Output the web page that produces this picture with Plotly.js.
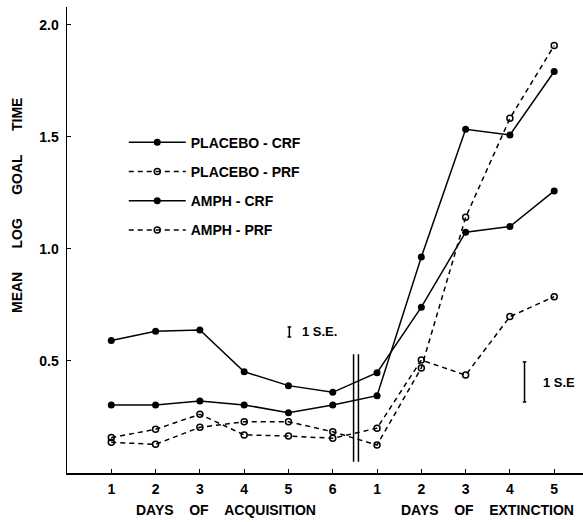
<!DOCTYPE html>
<html>
<head>
<meta charset="utf-8">
<script src="https://cdn.plot.ly/plotly-3.0.1.min.js"></script>
<style>
  html, body { margin: 0; padding: 0; background: #fff; }
  #chart { width: 583px; height: 522px; }
</style>
</head>
<body>
<div id="chart"></div>
<script>
// Positions 1..11: acquisition days 1-6, then extinction days 1-5
var dayPositions = [1, 2, 3, 4, 5, 6, 7, 8, 9, 10, 11];
var dayLabels = ['1', '2', '3', '4', '5', '6', '1', '2', '3', '4', '5'];

var seriesNames = ['PLACEBO - CRF', 'PLACEBO - PRF', 'AMPH - CRF', 'AMPH - PRF'];

// Mean log goal time
var placeboCRF = [0.304, 0.304, 0.321, 0.304, 0.269, 0.304, 0.345, 0.964, 1.534, 1.509, 1.792];
var placeboPRF = [0.158, 0.195, 0.262, 0.170, 0.165, 0.155, 0.200, 0.504, 0.437, 0.698, 0.787];
var amphCRF    = [0.591, 0.633, 0.638, 0.452, 0.390, 0.360, 0.448, 0.740, 1.075, 1.100, 1.259];
var amphPRF    = [0.137, 0.128, 0.204, 0.229, 0.229, 0.184, 0.125, 0.469, 1.141, 1.583, 1.908];

var yTickVals = [0.5, 1.0, 1.5, 2.0];
var yTickText = ['0.5', '1.0', '1.5', '2.0'];

var FONT = 'Liberation Sans, Arial, Helvetica, sans-serif';

function mk(name, y, filled) {
  return {
    type: 'scatter', mode: 'lines+markers', name: name, legendgroup: name,
    x: dayPositions, y: y,
    line: { color: '#000', width: 1.5, dash: filled ? 'solid' : '5px,4px' },
    marker: filled ? { symbol: 'circle', size: 7, color: '#000' }
                   : { symbol: 'circle-open', size: 6, color: '#000', line: { width: 1.5, color: '#000' } }
  };
}

var data = [
  mk(seriesNames[0], placeboCRF, true),
  mk(seriesNames[1], placeboPRF, false),
  mk(seriesNames[2], amphCRF, true),
  mk(seriesNames[3], amphPRF, false)
];

var blk = { color: '#000', width: 1.5 };
var shapes = [
  // double vertical separator between acquisition and extinction
  { type: 'line', xref: 'x', yref: 'y', x0: 6.47, x1: 6.47, y0: 0.05, y1: 0.53, line: blk },
  { type: 'line', xref: 'x', yref: 'y', x0: 6.58, x1: 6.58, y0: 0.05, y1: 0.53, line: blk },
  // 1 S.E. bar (acquisition)
  { type: 'line', xref: 'x', yref: 'y', x0: 5.02, x1: 5.02, y0: 0.607, y1: 0.652, line: blk },
  { type: 'line', xref: 'x', yref: 'y', x0: 4.98, x1: 5.06, y0: 0.652, y1: 0.652, line: blk },
  { type: 'line', xref: 'x', yref: 'y', x0: 4.98, x1: 5.06, y0: 0.607, y1: 0.607, line: blk },
  // 1 S.E. bar (extinction)
  { type: 'line', xref: 'x', yref: 'y', x0: 10.33, x1: 10.33, y0: 0.317, y1: 0.496, line: blk },
  { type: 'line', xref: 'x', yref: 'y', x0: 10.29, x1: 10.37, y0: 0.496, y1: 0.496, line: blk },
  { type: 'line', xref: 'x', yref: 'y', x0: 10.29, x1: 10.37, y0: 0.317, y1: 0.317, line: blk }
];

var sp = '\u00a0\u00a0\u00a0\u00a0';
var sp2 = '\u00a0\u00a0\u00a0\u00a0\u00a0\u00a0';
var annotations = [
  { xref: 'x', yref: 'y', x: 5.25, y: 0.63, xanchor: 'left', yanchor: 'middle', showarrow: false,
    text: '1 S.E.', font: { family: FONT, size: 13, color: '#000', weight: 'bold' } },
  { xref: 'x', yref: 'y', x: 10.71, y: 0.406, xanchor: 'left', yanchor: 'middle', showarrow: false,
    text: '1 S.E', font: { family: FONT, size: 13, color: '#000', weight: 'bold' } },
  { xref: 'paper', yref: 'paper', x: 0.308, y: -0.079, xanchor: 'center', yanchor: 'middle', showarrow: false,
    text: 'DAYS' + sp + 'OF' + sp + 'ACQUISITION', font: { family: FONT, size: 14, color: '#000', weight: 'bold' } },
  { xref: 'paper', yref: 'paper', x: 0.814, y: -0.079, xanchor: 'center', yanchor: 'middle', showarrow: false,
    text: 'DAYS' + sp + 'OF' + sp + 'EXTINCTION', font: { family: FONT, size: 14, color: '#000', weight: 'bold' } },
  { xref: 'paper', yref: 'paper', x: -0.097, y: 0.575, xanchor: 'center', yanchor: 'middle', showarrow: false,
    textangle: -90,
    text: 'MEAN' + sp2 + 'LOG' + sp2 + 'GOAL' + sp2 + 'TIME', font: { family: FONT, size: 14, color: '#000', weight: 'bold' } }
];

var layout = {
  width: 583, height: 522,
  margin: { l: 67, r: 0, t: 7, b: 49 },
  paper_bgcolor: '#fff', plot_bgcolor: '#fff',
  font: { family: FONT, size: 14, color: '#000' },
  showlegend: true,
  legend: {
    x: 0.110, y: 0.743, xanchor: 'left', yanchor: 'top',
    bgcolor: 'rgba(0,0,0,0)', borderwidth: 0,
    font: { family: FONT, size: 14, color: '#000', weight: 'bold' },
    itemwidth: 57, tracegroupgap: 8, traceorder: 'grouped'
  },
  xaxis: {
    range: [0, 11.65], tickmode: 'array', tickvals: dayPositions, ticktext: dayLabels,
    ticks: 'inside', ticklen: 4, tickwidth: 1, tickcolor: '#000',
    showline: true, linecolor: '#000', linewidth: 1.5, showgrid: false, zeroline: false,
    ticklabelstandoff: 3,
    tickfont: { family: FONT, size: 14, color: '#000', weight: 'bold' }
  },
  yaxis: {
    range: [0, 2.08], tickmode: 'array', tickvals: yTickVals, ticktext: yTickText,
    ticks: 'inside', ticklen: 4, tickwidth: 1, tickcolor: '#000',
    showline: true, linecolor: '#000', linewidth: 1.5, showgrid: false, zeroline: false,
    ticklabelstandoff: 4,
    tickfont: { family: FONT, size: 14, color: '#000', weight: 'bold' }
  },
  shapes: shapes,
  annotations: annotations
};

Plotly.newPlot('chart', data, layout, { staticPlot: true, displayModeBar: false });
</script>
</body>
</html>
